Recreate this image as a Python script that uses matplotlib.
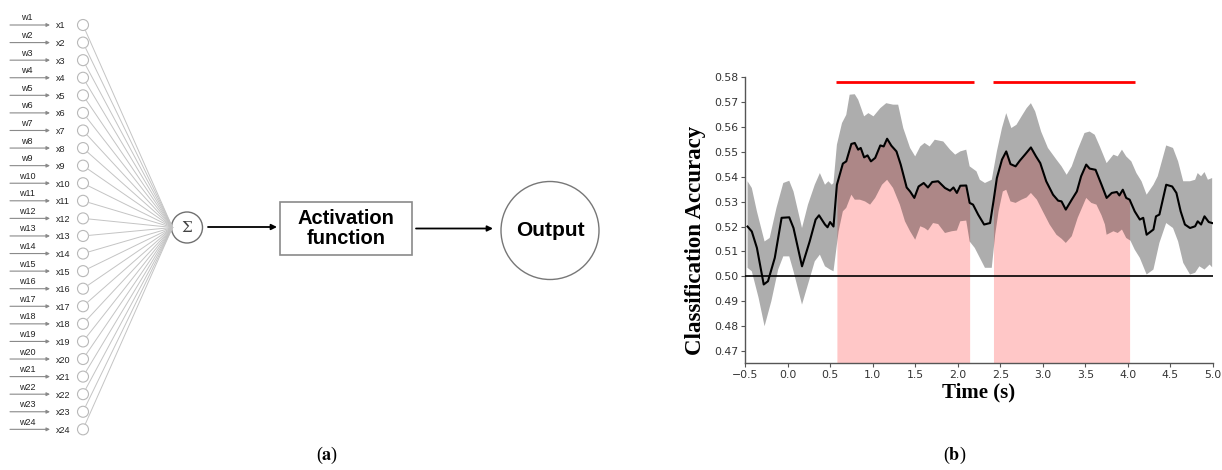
import numpy as np
import matplotlib
matplotlib.use("Agg")
import matplotlib.pyplot as plt
from matplotlib.patches import Circle, Rectangle


# panel (a): perceptron inputs
input_labels = [f"x{i}" for i in range(1, 25)]
weight_labels = [f"w{i}" for i in range(1, 25)]

# panel (b): decoding accuracy over time
mean_t = [-0.47, -0.42, -0.36, -0.28, -0.23, -0.15, -0.07, 0.02, 0.07, 0.17,
          0.26, 0.33, 0.37, 0.44, 0.47, 0.50, 0.54, 0.58, 0.65, 0.69,
          0.75, 0.79, 0.83, 0.86, 0.90, 0.94, 0.98, 1.03, 1.09, 1.13,
          1.17, 1.22, 1.28, 1.33, 1.40, 1.44, 1.49, 1.54, 1.60, 1.65,
          1.70, 1.77, 1.85, 1.91, 1.95, 1.99, 2.03, 2.10, 2.14, 2.18,
          2.24, 2.31, 2.38, 2.42, 2.46, 2.52, 2.57, 2.62, 2.68, 2.73,
          2.79, 2.86, 2.92, 2.97, 3.04, 3.12, 3.18, 3.22, 3.27, 3.34,
          3.40, 3.45, 3.51, 3.55, 3.62, 3.69, 3.75, 3.81, 3.87, 3.90,
          3.94, 3.98, 4.02, 4.08, 4.14, 4.18, 4.22, 4.30, 4.33, 4.37,
          4.45, 4.52, 4.57, 4.62, 4.67, 4.73, 4.79, 4.82, 4.86, 4.90,
          4.95, 4.99]
mean_acc = [0.5200, 0.5180, 0.5114, 0.4967, 0.4980, 0.5074, 0.5235, 0.5237, 0.5194, 0.5040,
            0.5140, 0.5228, 0.5245, 0.5208, 0.5197, 0.5218, 0.5200, 0.5368, 0.5453, 0.5462,
            0.5532, 0.5536, 0.5509, 0.5516, 0.5478, 0.5486, 0.5462, 0.5476, 0.5526, 0.5522,
            0.5553, 0.5525, 0.5502, 0.5449, 0.5357, 0.5341, 0.5315, 0.5361, 0.5375, 0.5357,
            0.5379, 0.5382, 0.5355, 0.5344, 0.5357, 0.5335, 0.5364, 0.5365, 0.5295, 0.5288,
            0.5248, 0.5208, 0.5214, 0.5301, 0.5395, 0.5469, 0.5502, 0.5451, 0.5442, 0.5465,
            0.5489, 0.5518, 0.5482, 0.5455, 0.5382, 0.5328, 0.5304, 0.5301, 0.5268, 0.5308,
            0.5341, 0.5402, 0.5449, 0.5433, 0.5428, 0.5368, 0.5315, 0.5335, 0.5339, 0.5325,
            0.5348, 0.5315, 0.5308, 0.5261, 0.5228, 0.5235, 0.5167, 0.5188, 0.5241, 0.5248,
            0.5368, 0.5361, 0.5335, 0.5261, 0.5208, 0.5194, 0.5201, 0.5221, 0.5208, 0.5241,
            0.5218, 0.5214]

upper_t = [-0.47, -0.42, -0.36, -0.27, -0.21, -0.13, -0.05, 0.02, 0.07, 0.17,
           0.24, 0.32, 0.38, 0.44, 0.48, 0.52, 0.54, 0.58, 0.64, 0.69,
           0.73, 0.79, 0.83, 0.90, 0.95, 1.01, 1.09, 1.16, 1.24, 1.30,
           1.36, 1.44, 1.50, 1.56, 1.61, 1.67, 1.73, 1.83, 1.91, 1.97,
           2.03, 2.10, 2.14, 2.22, 2.26, 2.32, 2.40, 2.46, 2.52, 2.57,
           2.63, 2.69, 2.75, 2.81, 2.86, 2.91, 2.98, 3.06, 3.16, 3.22,
           3.28, 3.34, 3.41, 3.49, 3.55, 3.61, 3.67, 3.75, 3.83, 3.88,
           3.93, 3.98, 4.04, 4.10, 4.16, 4.22, 4.30, 4.35, 4.45, 4.53,
           4.59, 4.65, 4.73, 4.79, 4.82, 4.86, 4.90, 4.94, 4.99]
upper_acc = [0.5382, 0.5355, 0.5261, 0.5140, 0.5154, 0.5275, 0.5375, 0.5384, 0.5341, 0.5194,
             0.5288, 0.5368, 0.5415, 0.5368, 0.5382, 0.5368, 0.5375, 0.5529, 0.5616, 0.5649,
             0.5730, 0.5732, 0.5710, 0.5643, 0.5656, 0.5643, 0.5676, 0.5696, 0.5690, 0.5690,
             0.5596, 0.5516, 0.5482, 0.5522, 0.5536, 0.5522, 0.5549, 0.5542, 0.5509, 0.5489,
             0.5502, 0.5509, 0.5442, 0.5422, 0.5388, 0.5375, 0.5388, 0.5502, 0.5596, 0.5656,
             0.5596, 0.5609, 0.5643, 0.5676, 0.5696, 0.5663, 0.5582, 0.5516, 0.5469, 0.5442,
             0.5408, 0.5442, 0.5509, 0.5576, 0.5582, 0.5569, 0.5522, 0.5455, 0.5489, 0.5482,
             0.5509, 0.5482, 0.5462, 0.5415, 0.5382, 0.5328, 0.5368, 0.5402, 0.5526, 0.5516,
             0.5462, 0.5382, 0.5382, 0.5388, 0.5415, 0.5402, 0.5419, 0.5388, 0.5395]

lower_t = [-0.47, -0.42, -0.34, -0.27, -0.19, -0.11, -0.05, 0.02, 0.07, 0.17,
           0.24, 0.32, 0.38, 0.44, 0.50, 0.54, 0.60, 0.65, 0.69, 0.75,
           0.79, 0.85, 0.91, 0.97, 1.03, 1.11, 1.17, 1.24, 1.32, 1.38,
           1.44, 1.50, 1.56, 1.61, 1.65, 1.71, 1.77, 1.85, 1.93, 1.99,
           2.03, 2.10, 2.14, 2.20, 2.26, 2.32, 2.40, 2.44, 2.48, 2.53,
           2.57, 2.62, 2.68, 2.75, 2.81, 2.86, 2.93, 3.00, 3.08, 3.16,
           3.22, 3.27, 3.34, 3.41, 3.51, 3.57, 3.63, 3.69, 3.73, 3.75,
           3.83, 3.88, 3.93, 3.98, 4.03, 4.08, 4.14, 4.22, 4.30, 4.37,
           4.45, 4.53, 4.59, 4.65, 4.73, 4.79, 4.84, 4.90, 4.96, 4.99]
lower_acc = [0.5034, 0.5020, 0.4913, 0.4799, 0.4900, 0.5027, 0.5080, 0.5080, 0.5020, 0.4886,
             0.4967, 0.5060, 0.5087, 0.5040, 0.5027, 0.5020, 0.5181, 0.5261, 0.5275, 0.5328,
             0.5308, 0.5308, 0.5301, 0.5288, 0.5315, 0.5368, 0.5388, 0.5355, 0.5288, 0.5221,
             0.5181, 0.5147, 0.5201, 0.5194, 0.5184, 0.5214, 0.5210, 0.5174, 0.5181, 0.5184,
             0.5221, 0.5224, 0.5140, 0.5114, 0.5074, 0.5034, 0.5034, 0.5167, 0.5261, 0.5341,
             0.5348, 0.5301, 0.5295, 0.5308, 0.5317, 0.5335, 0.5308, 0.5261, 0.5208, 0.5167,
             0.5151, 0.5134, 0.5161, 0.5235, 0.5315, 0.5295, 0.5288, 0.5245, 0.5208, 0.5167,
             0.5181, 0.5174, 0.5188, 0.5154, 0.5143, 0.5107, 0.5074, 0.5007, 0.5027, 0.5134,
             0.5214, 0.5194, 0.5140, 0.5054, 0.5007, 0.5014, 0.5040, 0.5027, 0.5047, 0.5036]

chance = 0.50
sig_windows = [(0.57, 2.15), (2.41, 4.03)]
sig_bars = [(0.57, 2.19), (2.41, 4.08)]
sig_bar_y = 0.578

x_ticks = [-0.5, 0.0, 0.5, 1.0, 1.5, 2.0, 2.5, 3.0, 3.5, 4.0, 4.5, 5.0]
y_ticks = [0.47, 0.48, 0.49, 0.50, 0.51, 0.52, 0.53, 0.54, 0.55, 0.56, 0.57, 0.58]

W, H = 1222, 470
fig = plt.figure(figsize=(W / 100, H / 100), dpi=100)

# ---------- (a) diagram, drawn in pixel units ----------
axd = fig.add_axes([0, 0, 620 / W, 1])
axd.set_xlim(0, 620)
axd.set_ylim(H, 0)
axd.axis("off")

sx, sy, sr = 187, 227.5, 15.5
cx, cr = 83, 5.5
for i, (w, xl) in enumerate(zip(weight_labels, input_labels)):
    y = 25 + i * 17.58
    axd.annotate("", xy=(50, y), xytext=(10, y),
                 arrowprops=dict(arrowstyle="-|>", color="#8a8a8a", lw=0.8,
                                 mutation_scale=5, shrinkA=0, shrinkB=0))
    axd.text(27, y - 2.5, w, ha="center", va="bottom", fontsize=6.5,
             family="Liberation Sans", color="#222222")
    axd.text(56, y + 1, xl, ha="left", va="center", fontsize=6.5,
             family="Liberation Sans", color="#222222")
    axd.add_patch(Circle((cx, y), cr, fill=False, ec="#b8b8b8", lw=0.8))
    dx, dy = sx - sr - cx, sy - y
    d = np.hypot(dx, dy)
    axd.plot([cx + cr * dx / d, sx - sr + 1], [y + cr * dy / d, sy],
             color="#c4c4c4", lw=0.7)

axd.add_patch(Circle((sx, sy), sr, fill=False, ec="#707070", lw=1.0))
axd.text(sx, sy, "\u03a3", ha="center", va="center", fontsize=11,
         family="DejaVu Serif", color="#444444")

arrow = dict(arrowstyle="-|>", color="black", lw=1.3, mutation_scale=8,
             shrinkA=0, shrinkB=0)
axd.annotate("", xy=(277, 227), xytext=(208, 227), arrowprops=arrow)
axd.add_patch(Rectangle((280, 202), 132, 53, fill=False, ec="#8a8a8a", lw=1.2))
axd.text(346, 228.5, "Activation\nfunction", ha="center", va="center",
         fontsize=14.5, fontweight="bold", family="Liberation Sans",
         linespacing=1.1)
axd.annotate("", xy=(493, 228.5), xytext=(416, 228.5), arrowprops=arrow)
axd.add_patch(Circle((550, 230.5), 49, fill=False, ec="#777777", lw=1.0))
axd.text(550, 230.5, "Output", ha="center", va="center", fontsize=15,
         fontweight="bold", family="Liberation Sans")

# ---------- (b) accuracy plot ----------
ax = fig.add_axes([745 / W, 1 - 363.3 / H, 468 / W, (363.3 - 77.3) / H])

mt = np.array(mean_t)
mv = np.array(mean_acc)
ymin = 0.465

for a, b in sig_windows:
    m = (mt >= a) & (mt <= b)
    ax.fill_between(mt[m], ymin, mv[m], color="red", alpha=0.22, lw=0, zorder=1)

band_x = np.concatenate([upper_t, lower_t[::-1]])
band_y = np.concatenate([upper_acc, lower_acc[::-1]])
ax.fill(band_x, band_y, color="black", alpha=0.32, lw=0, zorder=2)

ax.plot(mt, mv, color="black", lw=1.5, zorder=4)
ax.axhline(chance, color="black", lw=1.2, zorder=3)

for a, b in sig_bars:
    ax.plot([a, b], [sig_bar_y, sig_bar_y], color="red", lw=2, clip_on=False,
            solid_capstyle="butt", zorder=5)

ax.set_xlim(-0.5, 5.0)
ax.set_ylim(ymin, 0.58)
ax.set_xticks(x_ticks)
ax.set_yticks(y_ticks)
ax.set_yticklabels([f"{v:.2f}" for v in y_ticks])
ax.tick_params(labelsize=7.8, labelcolor="#333333", color="#555555",
               length=3, width=0.8, pad=2)
for s in ["top", "right"]:
    ax.spines[s].set_visible(False)
for s in ["left", "bottom"]:
    ax.spines[s].set_color("#555555")
    ax.spines[s].set_linewidth(1.0)

ax.set_ylabel("Classification Accuracy", family="Liberation Serif",
              fontweight="bold", fontsize=16.5)
ax.yaxis.set_label_coords(-0.105, 0.43)
ax.yaxis.label.set_va("center")
ax.set_xlabel("Time (s)", family="Liberation Serif", fontweight="bold",
              fontsize=15)
ax.xaxis.set_label_coords(0.5, -0.066)
ax.xaxis.label.set_va("top")

plt.rcParams["mathtext.fontset"] = "stix"
fig.text(327 / W, 1 - 455 / H, r"($\mathbf{a}$)", ha="center", va="center",
         fontsize=13, family="Liberation Serif")
fig.text(955 / W, 1 - 455 / H, r"($\mathbf{b}$)", ha="center", va="center",
         fontsize=13, family="Liberation Serif")

fig.savefig("out.png", dpi=100)
